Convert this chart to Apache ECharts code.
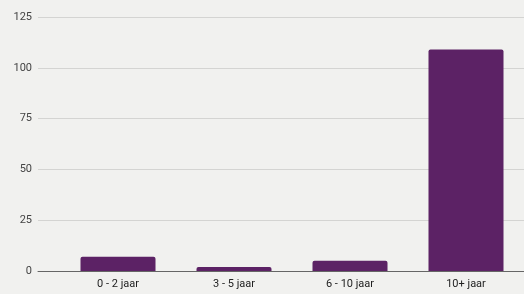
<!DOCTYPE html>
<html>
<head>
<meta charset="utf-8">
<script src="https://cdn.jsdelivr.net/npm/echarts@6/dist/echarts.min.js"></script>
<style>
  html, body { margin: 0; padding: 0; background: #f1f1ef; }
  #main { width: 524px; height: 294px; }
</style>
</head>
<body>
<div id="main"></div>
<script>
// categorieën en aantallen
const categories = ['0 - 2 jaar', '3 - 5 jaar', '6 - 10 jaar', '10+ jaar'];
const counts = [7, 2, 5, 109];
const yTicks = { min: 0, max: 125, interval: 25 };

const chart = echarts.init(document.getElementById('main'));

const option = {
    backgroundColor: '#f1f1ef',
    animation: false,
    grid: [
        // grid for the value axis and gridlines
        { left: 38, right: 0, top: 17, bottom: 23 },
        // grid for the bars
        { left: 60, right: 0, top: 17, bottom: 23 }
    ],
    xAxis: [
        {
            gridIndex: 0, type: 'value', min: 0, max: 1,
            show: true,
            axisLabel: { show: false }, axisTick: { show: false },
            splitLine: { show: false },
            axisLine: { show: true, lineStyle: { color: '#666', width: 1 } }
        },
        {
            gridIndex: 1, type: 'category', data: categories,
            axisLine: { show: false }, axisTick: { show: false },
            axisLabel: { color: '#222', fontSize: 11, fontFamily: 'Roboto', margin: 8 }
        }
    ],
    yAxis: [
        {
            gridIndex: 0, type: 'value',
            min: yTicks.min, max: yTicks.max, interval: yTicks.interval,
            axisLine: { show: false }, axisTick: { show: false },
            axisLabel: { color: '#444', fontSize: 11, fontFamily: 'Roboto', margin: 6 },
            splitLine: { lineStyle: { color: '#d4d4d2', width: 1 } }
        },
        {
            gridIndex: 1, type: 'value',
            min: yTicks.min, max: yTicks.max, interval: yTicks.interval,
            show: false
        }
    ],
    series: [
        {
            type: 'bar',
            xAxisIndex: 1, yAxisIndex: 1,
            data: counts,
            barWidth: 75,
            itemStyle: { color: '#5c2265', borderRadius: [2, 2, 0, 0] }
        }
    ]
};

chart.setOption(option);
</script>
</body>
</html>
